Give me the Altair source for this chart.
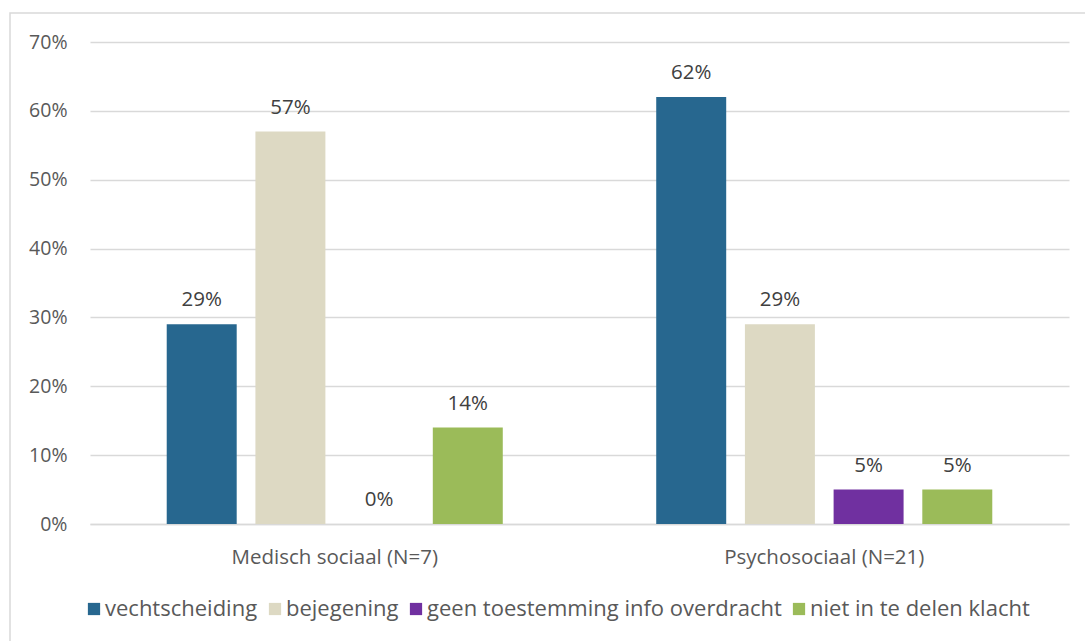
import altair as alt
import pandas as pd

categories = ["Medisch sociaal (N=7)", "Psychosociaal (N=21)"]
series = ["vechtscheiding", "bejegening", "geen toestemming info overdracht", "niet in te delen klacht"]
medisch = [0.29, 0.57, 0.0, 0.14]
psycho = [0.62, 0.29, 0.05, 0.05]
colors = ["#27678F", "#DDD9C3", "#7030A0", "#9BBB59"]
y_ticks = [0, 0.1, 0.2, 0.3, 0.4, 0.5, 0.6, 0.7]

rows = []
for cat, vals in zip(categories, [medisch, psycho]):
    for s, v in zip(series, vals):
        rows.append({"category": cat, "series": s, "value": v})
df = pd.DataFrame(rows)

FONT = "Open Sans"

x = alt.X("category:N", sort=categories, title=None,
          scale=alt.Scale(paddingInner=0, paddingOuter=0),
          axis=alt.Axis(labelAngle=0, ticks=False, domainColor="#d9d9d9", domainWidth=1.5,
                        labelFontSize=20.5, labelColor="#595959", labelPadding=23,
                        labelFont=FONT, labelLimit=0))
xoff = alt.XOffset("series:N", sort=series,
                   scale=alt.Scale(domain=series, paddingInner=0.211, paddingOuter=0.865))
y = alt.Y("value:Q", title=None,
          scale=alt.Scale(domain=[0, 0.7], nice=False),
          axis=alt.Axis(values=y_ticks, format=".0%", domain=False, ticks=False,
                        gridColor="#d9d9d9", gridWidth=1.3, labelFontSize=19.5,
                        labelColor="#595959", labelPadding=23, labelFont=FONT))

bars = alt.Chart(df).mark_bar().encode(
    x=x, xOffset=xoff, y=y,
    color=alt.Color("series:N", sort=series,
                    scale=alt.Scale(domain=series, range=colors),
                    legend=alt.Legend(title=None, orient="none", legendX=-7, legendY=556,
                                      direction="horizontal", columns=4,
                                      symbolType="square", symbolSize=150,
                                      symbolStrokeWidth=0, labelFontSize=22,
                                      labelColor="#595959", labelFont=FONT,
                                      labelLimit=0,
                                      columnPadding=6, labelOffset=0))
)

labels = alt.Chart(df).mark_text(baseline="alphabetic", dy=-18, fontSize=20.5,
                                 color="#404040", font=FONT).encode(
    x=alt.X("category:N", sort=categories), xOffset=alt.XOffset("series:N", sort=series),
    y="value:Q", text=alt.Text("value:Q", format=".0%")
)

border = alt.Chart(pd.DataFrame({"a": [0]})).mark_rect(
    fill=None, stroke="#d9d9d9", strokeWidth=1.5
).encode(x=alt.value(-80), x2=alt.value(1100), y=alt.value(-29), y2=alt.value(700))

chart = alt.layer(border, bars, labels).properties(
    width=979, height=482,
    autosize=alt.AutoSizeParams(type="none"),
    padding={"left": 90, "top": 42, "right": 16, "bottom": 117},
).configure_view(stroke=None)

chart.save("out.html", embed_options={"renderer": "svg", "actions": False})
